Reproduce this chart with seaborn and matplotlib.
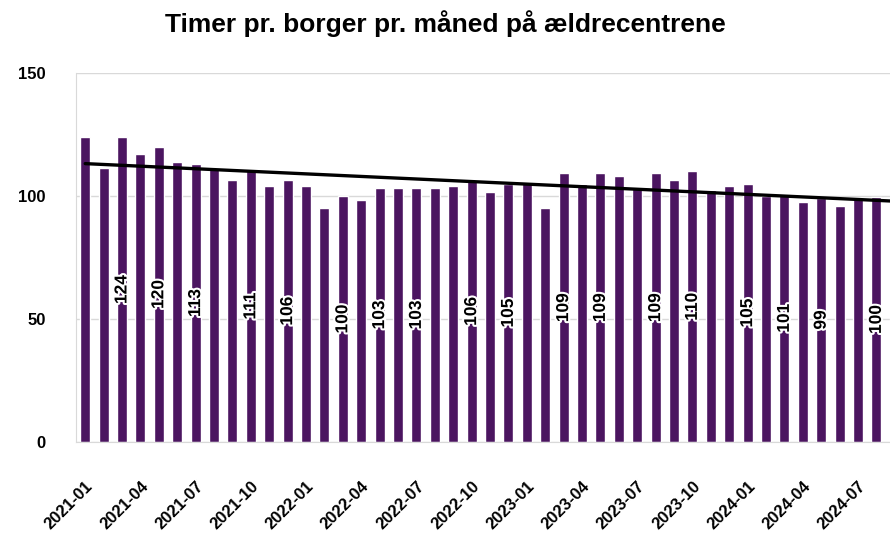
import numpy as np
import pandas as pd
import matplotlib
matplotlib.use("Agg")
import matplotlib.pyplot as plt
import matplotlib.patheffects as pe
import seaborn as sns

# data
months = [f"{y}-{m:02d}" for y in (2021, 2022, 2023, 2024) for m in range(1, 13)][:45]
hours = [124, 111.5, 124, 117, 120, 114, 113, 111.5, 106.7, 110.6,
         104, 106.4, 104, 95.2, 100, 98.4, 103.3, 103.3, 103.3, 103.3,
         104.1, 106.2, 101.6, 104.9, 105.5, 95.1, 109.2, 104.8, 109.2, 108.2,
         103.2, 109.2, 106.7, 110, 102.3, 104.1, 104.9, 100, 100.7, 97.5,
         99.2, 95.9, 98.9, 99.6, 94.1]
labelled = [2, 4, 6, 9, 11, 14, 16, 18, 21, 23, 26, 28, 31, 33, 36, 38, 40, 43]

title = "Timer pr. borger pr. måned på ældrecentrene"
bar_color = "#4B1560"
grid_color = "#d9d9d9"


def main():
    df = pd.DataFrame({"month": months, "hours": hours})

    sns.set_style("white")
    plt.rcParams["font.family"] = ["Liberation Sans", "DejaVu Sans"]
    plt.rcParams["font.weight"] = "bold"
    plt.rcParams["text.color"] = "black"
    plt.rcParams["xtick.color"] = "black"
    plt.rcParams["ytick.color"] = "black"

    fig = plt.figure(figsize=(8.9, 5.34), dpi=100)
    ax = fig.add_axes([76 / 890, 92 / 534, 828 / 890, 369 / 534])

    sns.barplot(data=df, x="month", y="hours", color=bar_color,
                width=0.55, saturation=1, ax=ax, zorder=2)

    # linear trend line (like the Excel trendline)
    xs = np.arange(len(df))
    k, b = np.polyfit(xs, df["hours"], 1)
    ax.plot(xs, k * xs + b, color="black", lw=2.4, zorder=4)

    # value labels inside the bars
    for i in labelled:
        v = df["hours"].iloc[i]
        ax.text(i, v / 2, f"{v:.0f}", rotation=90, ha="center", va="center",
                fontsize=12.5, fontweight="bold", color="black", zorder=5,
                path_effects=[pe.withStroke(linewidth=3, foreground="white")])

    ax.set_ylim(0, 150)
    ax.set_yticks([0, 50, 100, 150])
    ax.set_xlim(-0.5, len(df) - 0.5)
    ax.set_xticks(xs[::3])
    ax.set_xticklabels(df["month"].iloc[::3], rotation=45, ha="right",
                       rotation_mode="anchor", fontsize=12, fontweight="bold")
    ax.tick_params(axis="x", length=0, pad=26)
    ax.tick_params(axis="y", length=0, pad=22, labelsize=12)
    for t in ax.get_yticklabels():
        t.set_fontweight("bold")
    ax.set_xlabel("")
    ax.set_ylabel("")

    ax.grid(axis="y", color=grid_color, lw=1, zorder=0)
    ax.set_axisbelow(True)
    for s in ["top", "right"]:
        ax.spines[s].set_visible(False)
    ax.spines["left"].set_color(grid_color)
    ax.spines["bottom"].set_color(grid_color)

    fig.text(0.5, 1 - 24 / 534, title, ha="center", va="center",
             fontsize=19, fontweight="bold")

    fig.savefig("out.png", dpi=100)


if __name__ == "__main__":
    main()
